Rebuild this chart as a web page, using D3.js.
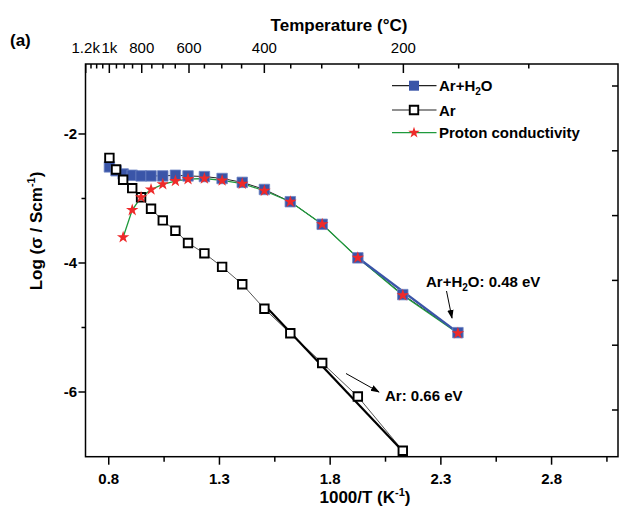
<!DOCTYPE html>
<html><head><meta charset="utf-8">
<script src="https://cdn.jsdelivr.net/npm/d3@7/dist/d3.min.js"></script>
<style>
html,body{margin:0;padding:0;background:#fff;}
svg{display:block;font-family:"Liberation Sans",Arial,Helvetica,sans-serif;}
</style></head>
<body><svg id="c" width="621" height="513"></svg>
<script>
// ---- data ----
// 1000/T (K^-1) positions of the measurements
const invT = [0.803,0.833,0.865,0.906,0.946,0.991,1.044,1.101,1.158,1.232,1.312,1.403,1.503,1.620,1.764,1.925,2.128,2.377];
// Ar + H2O : log(sigma)
const arH2O = [-2.51,-2.57,-2.62,-2.64,-2.65,-2.65,-2.65,-2.64,-2.65,-2.66,-2.69,-2.75,-2.86,-3.05,-3.40,-3.92,-4.49,-5.08];
// Ar (dry) : log(sigma), no point at the last temperature
const arDry = [-2.37,-2.55,-2.71,-2.84,-2.98,-3.16,-3.34,-3.50,-3.69,-3.85,-4.06,-4.33,-4.71,-5.09,-5.55,-6.07,-6.91];
// Proton conductivity (starts at 3rd temperature)
const protonX = invT.slice(2);
const proton = [-3.60,-3.18,-2.98,-2.86,-2.78,-2.73,-2.70,-2.69,-2.72,-2.77,-2.88,-3.05,-3.40,-3.92,-4.50,-5.09];
// Arrhenius fits
const fitArX = [1.503, 2.128], fitArY = [-4.65, -6.92];
const fitH2OX = [1.925, 2.377], fitH2OY = [-3.92, -5.08];
// axis ticks
const xMajor = [0.8,1.3,1.8,2.3,2.8];
const xMinor = [1.05,1.55,2.05,2.55,3.05];
const yMajor = [-2,-4,-6];
const yMinor = [-3,-5];
const yRightTicks = [-1,-2,-3,-4,-5,-6];
const tempMajor = [1200,1000,800,600,400,200];
const tempLabels = ["1.2k","1k","800","600","400","200"];
const tempMinor = [1150,1100,1050,950,900,850,750,700,650,550,500,450,350,300,250,150,100];
const legendItems = ["Ar+H2O","Ar","Proton conductivity"];

// ---- layout ----
const L=85.5, R=618, T=64, B=456.7;
const svg = d3.select("#c");
const x = d3.scaleLinear().domain([0.695,3.1]).range([L,R]);
const xTop = d3.scaleLinear().domain([0.695,3.1]).range([L+3.8,R+3.8]);
const y = d3.scaleLinear().domain([-0.915,-7.003]).range([T,B]);
const yR = d3.scaleLinear().domain([-1,-6]).range([86,410]);
const tK = t => 1000/(t+273.15);

const blue="#3a55a8", red="#ee2a2a", green="#1f9a3c";

// defs arrow
svg.append("defs").append("marker").attr("id","ah").attr("viewBox","0 0 10 10")
 .attr("refX",9).attr("refY",5).attr("markerWidth",9).attr("markerHeight",9)
 .attr("markerUnits","userSpaceOnUse").attr("orient","auto")
 .append("path").attr("d","M0,1.5 L10,5 L0,8.5 Z").attr("fill","#000");

// frame
const ax = svg.append("g").attr("stroke","#000").attr("stroke-width",1.5).attr("fill","none");
ax.append("rect").attr("x",L).attr("y",T).attr("width",R-L).attr("height",B-T);
xMajor.forEach(v=>ax.append("line").attr("x1",x(v)).attr("x2",x(v)).attr("y1",B).attr("y2",B+8));
xMinor.forEach(v=>ax.append("line").attr("x1",x(v)).attr("x2",x(v)).attr("y1",B).attr("y2",B+5));
yMajor.forEach(v=>ax.append("line").attr("x1",L).attr("x2",L-7).attr("y1",y(v)).attr("y2",y(v)));
yMinor.forEach(v=>ax.append("line").attr("x1",L).attr("x2",L-4).attr("y1",y(v)).attr("y2",y(v)));
yRightTicks.forEach(v=>ax.append("line").attr("x1",R).attr("x2",R-6).attr("y1",yR(v)).attr("y2",yR(v)));
tempMajor.forEach(t=>ax.append("line").attr("x1",xTop(tK(t))).attr("x2",xTop(tK(t))).attr("y1",T).attr("y2",T+9));
tempMinor.forEach(t=>{const px=xTop(tK(t)); if(px<R-1) ax.append("line").attr("x1",px).attr("x2",px).attr("y1",T).attr("y2",T+4.5);});

// tick labels
const tl = svg.append("g").attr("fill","#000");
xMajor.forEach(v=>tl.append("text").attr("x",x(v)).attr("y",484).attr("text-anchor","middle")
  .attr("font-size",15).attr("font-weight","bold").text(d3.format(".1f")(v)));
yMajor.forEach(v=>tl.append("text").attr("x",77).attr("y",y(v)+5).attr("text-anchor","end")
  .attr("font-size",15).attr("font-weight","bold").text(v));
tempMajor.forEach((t,i)=>tl.append("text").attr("x",xTop(tK(t))).attr("y",53).attr("text-anchor","middle")
  .attr("font-size",15).text(tempLabels[i]));

// titles
svg.append("text").attr("x",339).attr("y",31).attr("text-anchor","middle").attr("font-size",17)
  .attr("font-weight","bold").text("Temperature (°C)");
svg.append("text").attr("x",10).attr("y",46).attr("font-size",17).attr("font-weight","bold").text("(a)");
const xt = svg.append("text").attr("x",365).attr("y",503).attr("text-anchor","middle").attr("font-size",17).attr("font-weight","bold");
xt.append("tspan").text("1000/T (K");
xt.append("tspan").attr("font-size",11).attr("dy",-7).text("-1");
xt.append("tspan").attr("dy",7).text(")");
const yt = svg.append("text").attr("transform","translate(42,231) rotate(-90)").attr("text-anchor","middle").attr("font-size",17).attr("font-weight","bold");
yt.append("tspan").text("Log (σ / Scm");
yt.append("tspan").attr("font-size",11).attr("dy",-7).text("-1");
yt.append("tspan").attr("dy",7).text(")");

// lines
const line = d3.line().x(d=>x(d[0])).y(d=>y(d[1]));
const plot = svg.append("g");
plot.append("path").attr("d",line(d3.zip(invT,arDry))).attr("fill","none").attr("stroke","#555").attr("stroke-width",1);
plot.append("path").attr("d",line(d3.zip(invT,arH2O))).attr("fill","none").attr("stroke","#222").attr("stroke-width",1);
plot.append("path").attr("d",line(d3.zip(fitArX,fitArY))).attr("fill","none").attr("stroke","#000").attr("stroke-width",2.2);
plot.append("path").attr("d",line(d3.zip(protonX,proton))).attr("fill","none").attr("stroke",green).attr("stroke-width",1.3);
plot.append("path").attr("d",line(d3.zip(fitH2OX,fitH2OY))).attr("fill","none").attr("stroke",blue).attr("stroke-width",2.4);

// markers
const sq = d3.symbol().type(d3.symbolSquare);
const st = d3.symbol().type(d3.symbolStar).size(48);
plot.selectAll(".b").data(d3.zip(invT,arH2O)).join("path").attr("transform",d=>`translate(${x(d[0])},${y(d[1])})`)
  .attr("d",sq.size(110)()).attr("fill",blue).attr("stroke","#6f85c4").attr("stroke-width",0.8);
plot.selectAll(".a").data(d3.zip(invT,arDry)).join("path").attr("transform",d=>`translate(${x(d[0])},${y(d[1])})`)
  .attr("d",d3.symbol().type(d3.symbolSquare).size(72)()).attr("fill","#fff").attr("stroke","#000").attr("stroke-width",1.9);
plot.selectAll(".s").data(d3.zip(protonX,proton)).join("path").attr("transform",d=>`translate(${x(d[0])},${y(d[1])})`)
  .attr("d",st()).attr("fill",red);

// annotations
const ann = svg.append("g").attr("font-size",15).attr("font-weight","bold");
const a1 = ann.append("text").attr("x",426).attr("y",287);
a1.append("tspan").text("Ar+H");
a1.append("tspan").attr("font-size",10).attr("dy",4).text("2");
a1.append("tspan").attr("dy",-4).text("O: 0.48 eV");
ann.append("text").attr("x",385).attr("y",401).text("Ar: 0.66 eV");
svg.append("line").attr("x1",446.5).attr("y1",291).attr("x2",452).attr("y2",318).attr("stroke","#000").attr("stroke-width",1).attr("marker-end","url(#ah)");
svg.append("line").attr("x1",346).attr("y1",373.5).attr("x2",379).attr("y2",392).attr("stroke","#000").attr("stroke-width",1).attr("marker-end","url(#ah)");

// legend
const lg = svg.append("g");
const rows=[85.7,110,132.7];
legendItems.forEach((name,i)=>{
  const cy=rows[i];
  const col = i===2?green:"#222";
  lg.append("line").attr("x1",392).attr("x2",436.5).attr("y1",cy).attr("y2",cy).attr("stroke",col).attr("stroke-width",1.2);
  const g=lg.append("g").attr("transform",`translate(414,${cy})`);
  if(i===0) g.append("path").attr("d",d3.symbol().type(d3.symbolSquare).size(100)()).attr("fill",blue);
  if(i===1) g.append("path").attr("d",d3.symbol().type(d3.symbolSquare).size(72)()).attr("fill","#fff").attr("stroke","#000").attr("stroke-width",1.9);
  if(i===2) g.append("path").attr("d",d3.symbol().type(d3.symbolStar).size(40)()).attr("fill",red);
  const t=lg.append("text").attr("x",439).attr("y",cy+5.5).attr("font-size",15).attr("font-weight","bold");
  if(i===0){t.append("tspan").text("Ar+H");t.append("tspan").attr("font-size",10).attr("dy",4).text("2");t.append("tspan").attr("dy",-4).text("O");}
  else t.text(name);
});
</script></body></html>
